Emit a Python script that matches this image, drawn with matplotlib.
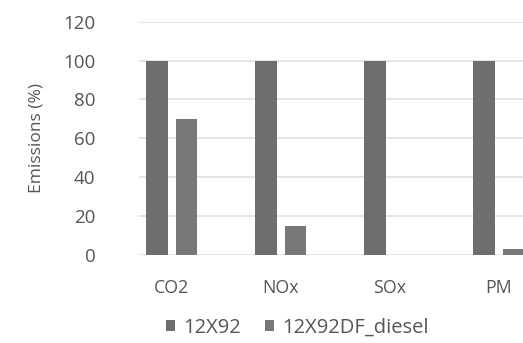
import matplotlib.pyplot as plt
import numpy as np

# Data
categories = ["CO2", "NOx", "SOx", "PM"]
series_names = ["12X92", "12X92DF_diesel"]
engine_12x92 = [100, 100, 100, 100]
engine_12x92df = [70, 15, 0, 3]
yticks = [0, 20, 40, 60, 80, 100, 120]

plt.rcParams["font.family"] = ["Open Sans", "DejaVu Sans"]

fig = plt.figure(figsize=(5.23, 3.43), dpi=100)
ax = fig.add_axes([139 / 523, 1 - 255 / 343, (523 - 139) / 523, (255 - 21.7) / 343])

x = np.arange(len(categories))
w = 0.2
off = 0.135
ax.bar(x - off, engine_12x92, w, color="#6e6e6e", label=series_names[0], zorder=3)
ax.bar(x + off, engine_12x92df, w, color="#787878", label=series_names[1], zorder=3)

ax.set_xlim(-0.30, 3.22)
ax.set_ylim(0, 120)
ax.set_yticks(yticks)
ax.yaxis.grid(True, color="#e0e0e0", linewidth=1.2, zorder=0)
ax.set_xticks(x)
ax.set_xticklabels(categories)
ax.tick_params(axis="both", length=0, colors="#555555")
ax.tick_params(axis="y", pad=31.5, labelsize=13.5)
ax.tick_params(axis="x", pad=17, labelsize=12.8)
for s in ax.spines.values():
    s.set_visible(False)

ax.set_ylabel("Emissions (%)", fontsize=12.5, color="#555555")
ax.yaxis.set_label_coords(-0.245, 0.5)

fig.legend(loc="center", bbox_to_anchor=(297 / 523, 1 - 328 / 343), ncol=2,
           frameon=False, fontsize=14.5, handlelength=0.45, handleheight=0.45,
           handletextpad=0.4, columnspacing=1.2, labelcolor="#555555")

fig.savefig("out.png", dpi=100)
